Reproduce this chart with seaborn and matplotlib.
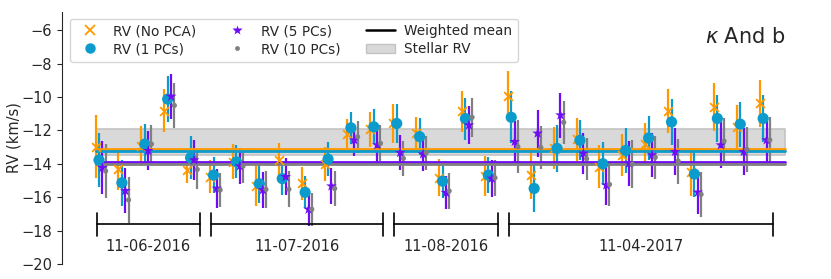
import numpy as np
import pandas as pd
import matplotlib
matplotlib.use("Agg")
import matplotlib.pyplot as plt
import seaborn as sns
from matplotlib.lines import Line2D
from matplotlib.patches import Patch

# RV per exposure (km/s)
rv_nopca = [-12.98, -14.34, -12.94, -10.82, -14.38, -14.78, -13.88, -15.34, -13.78, -15.18,
            -14.02, -12.22, -11.94, -11.58, -12.18, -14.84, -10.85, -14.74, -9.93, -14.68,
            -13.08, -12.54, -14.18, -13.48, -12.84, -10.83, -14.48, -10.59, -11.78, -10.39]
err_nopca = [1.9, 1.25, 1.2, 1.27, 0.76, 1.0, 1.05, 1.2, 1.0, 1.0,
             1.0, 0.9, 1.03, 1.15, 1.0, 1.12, 1.22, 1.18, 1.5, 1.45,
             1.25, 1.28, 1.3, 1.25, 1.25, 1.33, 1.43, 1.42, 1.3, 1.4]
rv_1pc = [-13.78, -15.14, -12.82, -10.13, -13.64, -14.68, -13.88, -15.2, -14.89, -15.71,
          -13.72, -11.85, -11.79, -11.59, -12.38, -15.04, -11.3, -14.68, -11.22, -15.48,
          -13.08, -12.6, -14.0, -13.2, -12.46, -11.5, -14.62, -11.29, -11.63, -11.29]
err_1pc = [1.6, 1.37, 1.18, 1.37, 1.3, 1.1, 1.0, 1.15, 1.0, 0.95,
           1.0, 0.95, 1.04, 1.15, 1.1, 1.0, 1.25, 1.1, 1.55, 1.4,
           1.4, 1.2, 1.3, 1.35, 1.32, 1.4, 1.35, 1.4, 1.35, 1.4]
rv_5pc = [-14.24, -15.62, -13.22, -9.97, -13.78, -15.48, -14.14, -15.57, -14.78, -16.73,
          -15.34, -12.58, -12.88, -13.34, -13.42, -15.73, -11.69, -14.88, -12.68, -12.18,
          -11.09, -13.38, -15.28, -13.98, -13.48, -13.28, -15.71, -12.88, -13.28, -12.58]
err_5pc = [1.6, 1.35, 1.18, 1.35, 1.22, 1.15, 1.1, 1.1, 1.1, 1.0,
           1.08, 0.95, 1.05, 1.05, 1.0, 1.0, 1.15, 1.1, 1.25, 1.42,
           1.35, 1.25, 1.2, 1.33, 1.33, 1.4, 1.3, 1.35, 1.4, 1.35]
rv_10pc = [-14.44, -16.17, -12.82, -10.51, -14.34, -15.57, -14.14, -15.53, -15.53, -16.73,
           -15.48, -12.38, -12.78, -13.68, -13.34, -15.63, -11.22, -14.84, -12.98, -13.02,
           -11.52, -13.7, -15.24, -14.02, -13.62, -13.84, -15.83, -12.64, -13.14, -12.58]
err_10pc = [1.6, 1.38, 1.15, 1.36, 1.2, 1.0, 1.02, 1.1, 1.08, 1.0,
            1.05, 0.95, 1.08, 1.05, 1.02, 1.05, 1.15, 1.07, 1.6, 1.3,
            1.28, 1.25, 1.3, 1.45, 1.3, 1.35, 1.35, 1.35, 1.35, 1.4]

weighted_means = [-13.12, -13.26, -13.9, -14.02]
stellar_rv = -12.7
stellar_err = 0.8

nights = ['11-06-2016', '11-07-2016', '11-08-2016', '11-04-2017']
n_per_night = [5, 8, 5, 12]

series = ['RV (No PCA)', 'RV (1 PCs)', 'RV (5 PCs)', 'RV (10 PCs)']
colors = ['#ff9900', '#0b9bcc', '#6f0cf5', '#808080']
markers = ['x', 'o', '*', 'o']
sizes = [40, 65, 65, 14]
offsets = [-0.15, 0.0, 0.15, 0.29]

idx = np.arange(len(rv_1pc))
frames = []
for name, rv, err, off in zip(series, [rv_nopca, rv_1pc, rv_5pc, rv_10pc],
                              [err_nopca, err_1pc, err_5pc, err_10pc], offsets):
    frames.append(pd.DataFrame({'x': idx + off, 'rv': rv, 'err': err, 'series': name}))
df = pd.concat(frames, ignore_index=True)

sns.set_style("ticks")
plt.rcParams['font.family'] = ['DejaVu Sans']
fig = plt.figure(figsize=(8.31, 2.79), dpi=100)
ax = fig.add_axes([0.0746, 0.0538, 0.911, 0.903])

# stellar RV band
x_lo, x_hi = -0.15, 29.95
ax.fill_between([x_lo, x_hi], stellar_rv - stellar_err, stellar_rv + stellar_err,
                facecolor='#d9d9d9', edgecolor='#c4c4c4', lw=1.2, zorder=0)

for name, c in zip(series, colors):
    sub = df[df['series'] == name]
    ax.errorbar(sub['x'], sub['rv'], yerr=sub['err'], fmt='none', ecolor=c,
                elinewidth=1.6, capsize=0, zorder=1)

# weighted means
for m, c in zip(weighted_means, colors):
    ax.plot([x_lo, x_hi], [m, m], color=c, lw=2.0, zorder=2)

for name, c, mk, s in zip(series, colors, markers, sizes):
    sub = df[df['series'] == name]
    kw = dict(linewidth=1.3) if mk == 'x' else dict(edgecolor='none')
    sns.scatterplot(data=sub, x='x', y='rv', color=c, marker=mk, s=s, ax=ax,
                    zorder=3, legend=False, **kw)

# night brackets
start = 0
for night, n in zip(nights, n_per_night):
    x0, x1 = start - 0.1, start + n - 1 + 0.42
    ax.plot([x0, x1], [-17.63, -17.63], color='black', lw=1.2, zorder=2)
    ax.plot([x0, x0], [-16.93, -18.33], color='black', lw=1.2, zorder=2)
    ax.plot([x1, x1], [-16.93, -18.33], color='black', lw=1.2, zorder=2)
    ax.text((x0 + x1) / 2, -18.97, night, ha='center', va='center', fontsize=10.5)
    start += n

ax.set_xlim(-1.616, 31.44)
ax.set_ylim(-20, -4.92)
ax.set_yticks(np.arange(-20, -5, 2))
ax.set_xticks([])
ax.set_xlabel('')
ax.set_ylabel('RV (km/s)', fontsize=10.5)
ax.yaxis.set_label_coords(-0.053, 0.5)
ax.tick_params(axis='y', labelsize=10.5)
sns.despine(ax=ax, bottom=True)

ax.text(0.902, 0.90, r'$\kappa$ And b', transform=ax.transAxes, ha='center', va='center',
        fontsize=15)

handles = [
    Line2D([], [], ls='none', marker='x', color=colors[0], markersize=6.5, mew=1.3),
    Line2D([], [], ls='none', marker='o', color=colors[1], markersize=7.5, mec='none'),
    Line2D([], [], ls='none', marker='*', color=colors[2], markersize=7.5, mec='none'),
    Line2D([], [], ls='none', marker='o', color=colors[3], markersize=3.5, mec='none'),
    Line2D([], [], color='black', lw=1.8),
    Patch(facecolor='#d9d9d9', edgecolor='#c4c4c4'),
]
labels = series + ['Weighted mean', 'Stellar RV']
ax.legend(handles, labels, ncol=3, loc='upper left', bbox_to_anchor=(0.005, 0.99),
          fontsize=9.8, frameon=True, handlelength=2.1, handletextpad=0.7,
          columnspacing=1.9, borderaxespad=0.3, labelspacing=0.3)

fig.savefig('out.png', dpi=100)
